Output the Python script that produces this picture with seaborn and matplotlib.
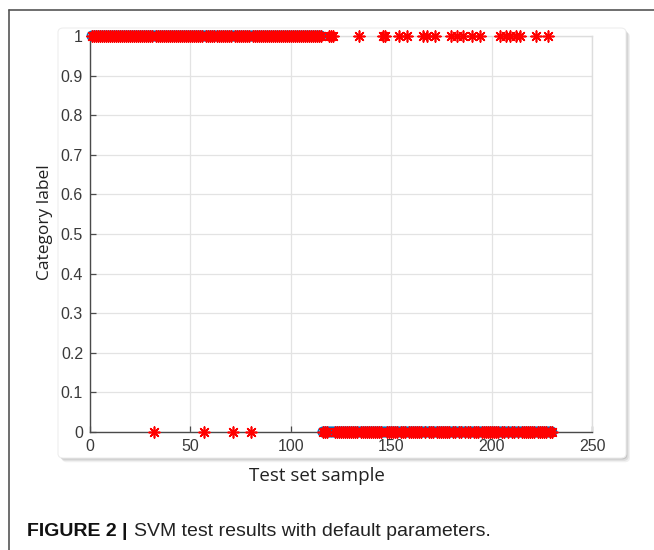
import numpy as np
import pandas as pd
import matplotlib.pyplot as plt
import seaborn as sns
from matplotlib.patches import FancyBboxPatch
from matplotlib.lines import Line2D

# test set: samples 1..115 are class 1, samples 116..230 are class 0
n_class1 = 115
n_samples = 230
# samples the SVM got wrong
miss_class1 = [32, 57, 71, 80]
miss_class0 = [119, 120, 121, 134, 146, 147, 154, 158, 166, 168, 172,
               180, 183, 186, 190, 194, 204, 207, 209, 212, 214, 222, 228]

sample = np.arange(1, n_samples + 1)
actual = np.where(sample <= n_class1, 1, 0)
wrong = np.isin(sample, miss_class1 + miss_class0)
predicted = np.where(wrong, 1 - actual, actual)
df = pd.DataFrame({'sample': sample, 'actual': actual, 'predicted': predicted})

sns.set_style('white')
plt.rcParams['font.family'] = ['Liberation Sans', 'DejaVu Sans']

fig = plt.figure(figsize=(6.54, 5.5), dpi=100)

# outer figure frame lines (top and left)
fig.add_artist(Line2D([9/654, 1], [1-10/550, 1-10/550], color='#555555', lw=1.2))
fig.add_artist(Line2D([9/654, 9/654], [0, 1-10/550], color='#555555', lw=1.2))

# panel with soft shadow behind the plot
px0, px1, py0, py1 = 58/654, 626/654, 1-458/550, 1-28/550
for i, a in enumerate([0.10, 0.08, 0.06]):
    d = 0.002 * (i + 1)
    sh = FancyBboxPatch((px0 + d, py0 - d*1.3), px1 - px0, py1 - py0,
                        boxstyle='round,pad=0,rounding_size=0.008',
                        transform=fig.transFigure, facecolor='black',
                        edgecolor='none', alpha=a, zorder=-3)
    fig.patches.append(sh)
panel = FancyBboxPatch((px0, py0), px1 - px0, py1 - py0,
                       boxstyle='round,pad=0,rounding_size=0.008',
                       transform=fig.transFigure, facecolor='white',
                       edgecolor='#eeeeee', lw=0.8, zorder=-2)
fig.patches.append(panel)

ax = fig.add_axes([90/654, 1-432/550, (592-90)/654, (432-36)/550])

sns.scatterplot(data=df, x='sample', y='actual', ax=ax, marker='o',
                s=46, facecolors='none', edgecolor=(0, 0.447, 0.741),
                linewidth=1.1, zorder=3, clip_on=False, legend=False)
sns.scatterplot(data=df, x='sample', y='predicted', ax=ax, marker=(8, 2, 0),
                s=60, color='red', edgecolor='red', linewidth=1.2,
                zorder=4, clip_on=False, legend=False)

ax.set_xlim(0, 250)
ax.set_ylim(0, 1)
ax.set_xticks([0, 50, 100, 150, 200, 250])
ax.set_yticks(np.round(np.arange(0, 1.01, 0.1), 1))
ax.set_yticklabels(['0', '0.1', '0.2', '0.3', '0.4', '0.5', '0.6', '0.7', '0.8', '0.9', '1'])
ax.grid(True, color='#e3e3e3', lw=0.9)
ax.set_axisbelow(True)
for s in ['left', 'bottom']:
    ax.spines[s].set_color('#4a4a4a')
    ax.spines[s].set_linewidth(1.0)
for s in ['top', 'right']:
    ax.spines[s].set_color('#dddddd')
    ax.spines[s].set_linewidth(1.0)
ax.tick_params(direction='in', length=4, width=0.9, color='#4a4a4a',
               labelsize=11.5, labelcolor='#3a3a3a', pad=5,
               top=False, right=False, left=True, bottom=True)

ax.set_xlabel('Test set sample', fontsize=13.5, family=['Open Sans', 'DejaVu Sans'],
              color='#222222')
ax.set_ylabel('Category label', fontsize=12.5, family=['Open Sans', 'DejaVu Sans'],
              color='#222222')
ax.xaxis.set_label_coords((317 - 90) / 502, -(476 - 432) / 396)
ax.yaxis.set_label_coords(-(90 - 45) / 502, (432 - 222) / 396)
ax.xaxis.label.set_va('center')
ax.yaxis.label.set_va('center')

# caption
t1 = fig.text(27/654, 1-531/550, 'FIGURE 2 |', fontsize=14, fontweight='bold',
              va='center', ha='left', color='#111111')
fig.canvas.draw()
bb = t1.get_window_extent()
fig.text((bb.x1 + 6) / fig.bbox.width, 1-531/550,
         'SVM test results with default parameters.', fontsize=14,
         va='center', ha='left', color='#222222')

fig.savefig('out.png', dpi=100)
